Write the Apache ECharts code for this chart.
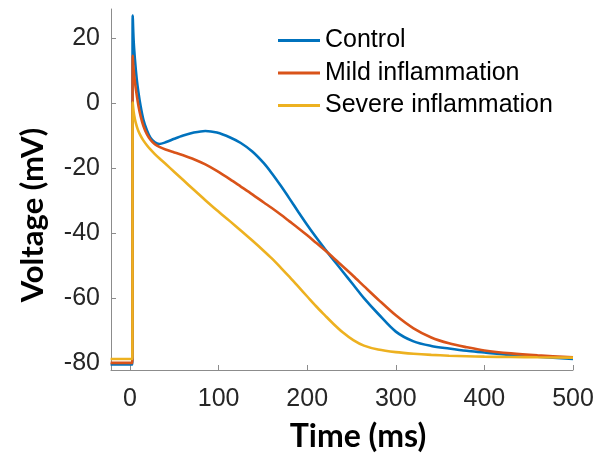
<!DOCTYPE html>
<html>
<head>
<meta charset="utf-8">
<script src="https://cdn.jsdelivr.net/npm/echarts@6/dist/echarts.min.js"></script>
<style>html,body{margin:0;padding:0;background:#fff}#c{width:606px;height:457px}</style>
</head>
<body>
<div id="c"></div>
<script>
const seriesNames = ['Control', 'Mild inflammation', 'Severe inflammation'];
const timeMs = [-22, 0, 2.5, 3, 4, 5.5, 7.5, 9.5, 12, 15, 19, 23, 28, 33, 40, 50, 60, 72, 85, 98, 113, 125, 138, 151, 160, 170, 180, 190, 200, 210, 220, 228, 240, 252, 264, 280, 300, 320, 340, 360, 380, 400, 430, 460, 500];
const controlV = [-80.3, -80.3, -80.3, 27, 19.5, 13.5, 7.5, 3.3, -1, -5, -8.3, -10.6, -12, -12.5, -12.0, -10.9, -9.9, -9.0, -8.5, -9.0, -10.5, -12.2, -14.8, -18.4, -21.5, -25.3, -29.3, -33.4, -37.4, -41.2, -44.8, -47.6, -51.7, -55.8, -59.9, -64.7, -70.2, -73.2, -74.6, -75.4, -76.1, -76.6, -77.4, -77.9, -78.6];
const mildV = [-79.8, -79.8, -79.8, 14.6, 10.5, 6.6, 2.6, -0.8, -4.0, -6.9, -9.5, -11.2, -12.6, -13.4, -14.2, -15.1, -16.0, -17.2, -18.8, -20.8, -23.4, -25.6, -28.0, -30.5, -32.2, -34.2, -36.3, -38.4, -40.6, -42.9, -45.2, -47.1, -50.1, -53.1, -56.2, -60.3, -65.2, -69.2, -72.0, -73.8, -75.0, -76.0, -76.9, -77.5, -78.1];
const severeV = [-78.6, -78.6, -78.6, 0.2, -2.5, -4.9, -7.0, -8.6, -10.0, -11.4, -12.9, -14.2, -15.6, -16.9, -18.6, -21.1, -23.6, -26.6, -29.8, -32.9, -36.3, -39.1, -42.2, -45.4, -47.7, -50.5, -53.4, -56.4, -59.4, -62.4, -65.2, -67.4, -70.4, -72.8, -74.5, -75.7, -76.5, -77.0, -77.35, -77.6, -77.75, -77.9, -78.0, -78.1, -78.2];
const xTicks = [0, 100, 200, 300, 400, 500];
const yTicks = [-80, -60, -40, -20, 0, 20];
const colors = ['#0072BD', '#D95319', '#EDB120'];

const values = [controlV, mildV, severeV];
const chart = echarts.init(document.getElementById('c'), null, {renderer: 'canvas'});
const axisCommon = {
  axisLine: {show: true, onZero: false, lineStyle: {color: '#8c8c8c', width: 1}},
  axisTick: {show: true, inside: true, length: 5, lineStyle: {color: '#8c8c8c'}},
  splitLine: {show: false},
  axisLabel: {color: '#262626', fontSize: 25, fontFamily: 'Liberation Sans, Arial, sans-serif'}
};
chart.setOption({
  animation: false,
  backgroundColor: '#fff',
  color: colors,
  grid: {left: 111, right: 33, top: 9, bottom: 87},
  xAxis: Object.assign({}, axisCommon, {
    type: 'value', min: -21.5, max: 500,
    axisTick: Object.assign({}, axisCommon.axisTick, {customValues: xTicks}),
    axisLabel: Object.assign({}, axisCommon.axisLabel, {customValues: xTicks, margin: 17})
  }),
  yAxis: Object.assign({}, axisCommon, {
    type: 'value', min: -82, max: 29,
    axisTick: Object.assign({}, axisCommon.axisTick, {customValues: yTicks}),
    axisLabel: Object.assign({}, axisCommon.axisLabel, {customValues: yTicks, margin: 11})
  }),
  legend: {
    orient: 'vertical', left: 278, top: 28, padding: 0, itemGap: 7.5,
    icon: 'rect', itemWidth: 42, itemHeight: 3,
    textStyle: {color: '#000', fontSize: 25, fontFamily: 'Liberation Sans, Arial, sans-serif'},
    data: seriesNames
  },
  graphic: [
    {type: 'text', x: 358, y: 437, style: {text: 'Time (ms)', font: 'bold 32px Lato, sans-serif', fill: '#000', align: 'center', verticalAlign: 'middle'}},
    {type: 'text', x: 33, y: 215, rotation: Math.PI / 2, style: {text: 'Voltage (mV)', font: 'bold 31px Lato, sans-serif', fill: '#000', align: 'center', verticalAlign: 'middle'}}
  ],
  series: seriesNames.map((name, i) => ({
    name: name, type: 'line', showSymbol: false, smooth: 0.3,
    lineStyle: {width: 2.6, color: colors[i]}, itemStyle: {color: colors[i]},
    data: timeMs.map((t, j) => [t, values[i][j]])
  }))
});
</script>
</body>
</html>
